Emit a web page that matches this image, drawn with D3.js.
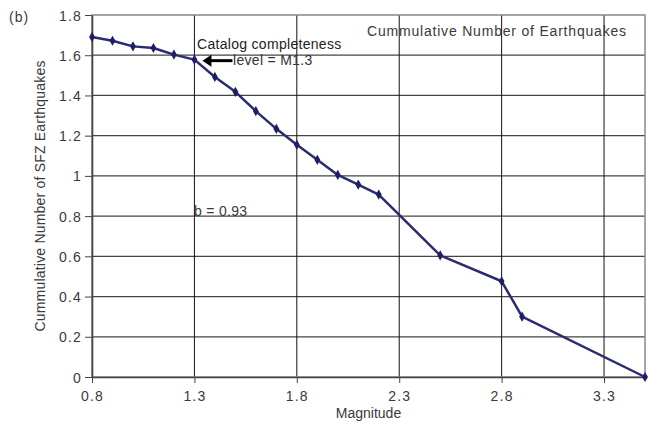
<!DOCTYPE html>
<html>
<head>
<meta charset="utf-8">
<script src="https://cdn.jsdelivr.net/npm/d3@7"></script>
<style>
  body { margin: 0; background: #fff; }
  svg { display: block; font-family: "Liberation Sans", Arial, sans-serif; }
</style>
</head>
<body>
<svg id="chart" width="648" height="429"></svg>
<script>
// ---- data ----
const magnitude = [0.8, 0.9, 1.0, 1.1, 1.2, 1.3, 1.4, 1.5, 1.6, 1.7, 1.8, 1.9, 2.0, 2.1, 2.2, 2.5, 2.8, 2.9, 3.5];
const logCumulative = [1.691, 1.672, 1.644, 1.636, 1.603, 1.578, 1.492, 1.418, 1.322, 1.234, 1.155, 1.08, 1.005, 0.957, 0.907, 0.605, 0.476, 0.30, 0.0];
const xTicks = [0.8, 1.3, 1.8, 2.3, 2.8, 3.3];
const yTicks = [0, 0.2, 0.4, 0.6, 0.8, 1.0, 1.2, 1.4, 1.6, 1.8];
const xDomain = [0.8, 3.5];
const yDomain = [0, 1.8];
const title = "Cummulative Number of Earthquakes";
const xLabel = "Magnitude";
const yLabel = "Cummulative Number of SFZ Earthquakes";
const panelLabel = "(b)";
const noteLines = ["Catalog completeness", "level = M1.3"];
const bValueText = "b = 0.93";

// ---- layout ----
const W = 648, H = 429;
const margin = { left: 92, right: 3, top: 15, bottom: 52 };
const pw = W - margin.left - margin.right;
const ph = H - margin.top - margin.bottom;

const svg = d3.select("#chart");
const g = svg.append("g").attr("transform", `translate(${margin.left},${margin.top})`);

const x = d3.scaleLinear().domain(xDomain).range([0, pw]);
const y = d3.scaleLinear().domain(yDomain).range([ph, 0]);

const textColor = "#3a3a3a";

// horizontal gridlines
g.append("g").selectAll("line").data(yTicks.filter(d => d > 0 && d < 1.8)).join("line")
  .attr("x1", 0).attr("x2", pw)
  .attr("y1", d => y(d)).attr("y2", d => y(d))
  .attr("stroke", "#444").attr("stroke-width", 1.3);

// vertical gridlines
g.append("g").selectAll("line").data(xTicks.filter(d => d > 0.8)).join("line")
  .attr("x1", d => x(d)).attr("x2", d => x(d))
  .attr("y1", 0).attr("y2", ph)
  .attr("stroke", "#111").attr("stroke-width", 1);

// frame
g.append("rect").attr("x", 0).attr("y", 0).attr("width", pw).attr("height", ph)
  .attr("fill", "none").attr("stroke", "#888").attr("stroke-width", 1.5);

// axes
const xAxis = d3.axisBottom(x).tickValues(xTicks).tickFormat(d3.format(".1f")).tickSize(6).tickSizeOuter(0);
const yAxis = d3.axisLeft(y).tickValues(yTicks).tickFormat(d3.format(".1~f")).tickSize(7).tickSizeOuter(0);

const gx = g.append("g").attr("transform", `translate(0,${ph})`).call(xAxis);
const gy = g.append("g").call(yAxis);

[gx, gy].forEach(a => {
  a.select(".domain").attr("stroke", "#444").attr("stroke-width", 1.6);
  a.selectAll(".tick line").attr("stroke", "#444").attr("stroke-width", 1);
  a.selectAll(".tick text").attr("fill", textColor).attr("font-size", 14)
    .attr("font-family", "Liberation Sans, Arial, sans-serif").attr("letter-spacing", 1.2);
});
gx.selectAll(".tick text").attr("dy", "1.05em");
gy.selectAll(".tick text").attr("x", -10).attr("dy", "0.36em");

// data line
const line = d3.line().x((d, i) => x(magnitude[i])).y(d => y(d));
g.append("path").datum(logCumulative)
  .attr("d", line).attr("fill", "none")
  .attr("stroke", "#2b2b70").attr("stroke-width", 2.5).attr("stroke-linejoin", "round");

// markers (diamonds)
const diamond = d3.symbol().type(d3.symbolDiamond).size(30);
g.append("g").selectAll("path").data(logCumulative).join("path")
  .attr("transform", (d, i) => `translate(${x(magnitude[i])},${y(d)})`)
  .attr("d", diamond).attr("fill", "#1e1e66");

// title inside plot
svg.append("text").attr("x", 367).attr("y", 36)
  .attr("font-size", 14).attr("fill", textColor).attr("letter-spacing", 0.8)
  .text(title);

// panel label
svg.append("text").attr("x", 9).attr("y", 22)
  .attr("font-size", 14).attr("fill", textColor).attr("letter-spacing", 1).text(panelLabel);

// axis labels
svg.append("text").attr("x", margin.left + pw / 2).attr("y", 418)
  .attr("text-anchor", "middle").attr("font-size", 14).attr("fill", textColor)
  .text(xLabel);
svg.append("text")
  .attr("transform", `translate(45,${margin.top + ph / 2}) rotate(-90)`)
  .attr("text-anchor", "middle").attr("font-size", 14).attr("fill", textColor)
  .attr("letter-spacing", 0.2)
  .text(yLabel);

// annotation
svg.append("text").attr("x", 197).attr("y", 49)
  .attr("font-size", 14).attr("fill", "#222").attr("letter-spacing", 0.3).text(noteLines[0]);
svg.append("text").attr("x", 233).attr("y", 65)
  .attr("font-size", 14).attr("fill", "#333").attr("letter-spacing", 0.3).text(noteLines[1]);

// arrow pointing at the M1.3 point
const ax0 = x(1.3) + margin.left + 8, ay = y(1.578) + margin.top + 1;
svg.append("line").attr("x1", ax0 + 5).attr("x2", ax0 + 30)
  .attr("y1", ay).attr("y2", ay).attr("stroke", "#000").attr("stroke-width", 3);
svg.append("path")
  .attr("d", `M${ax0},${ay} L${ax0 + 9},${ay - 6} L${ax0 + 9},${ay + 6} Z`)
  .attr("fill", "#000");

// b-value
svg.append("text").attr("x", 194).attr("y", 216)
  .attr("font-size", 14).attr("fill", textColor).attr("letter-spacing", 0.3).text(bValueText);
</script>
</body>
</html>
